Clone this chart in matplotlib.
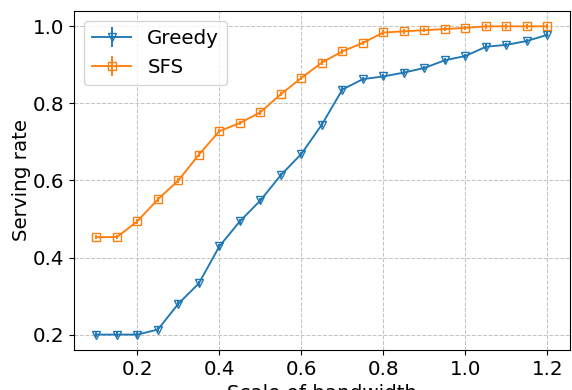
import matplotlib
matplotlib.use('Agg')
import matplotlib.pyplot as plt

# bandwidth scale from 0.1 to 1.2
scale = [0.1, 0.15, 0.2, 0.25, 0.3, 0.35, 0.4, 0.45, 0.5, 0.55, 0.6, 0.65,
         0.7, 0.75, 0.8, 0.85, 0.9, 0.95, 1.0, 1.05, 1.1, 1.15, 1.2]
greedy = [0.2, 0.2, 0.2, 0.213, 0.28, 0.333, 0.429, 0.494, 0.548, 0.614, 0.669, 0.745,
          0.836, 0.863, 0.870, 0.880, 0.892, 0.912, 0.923, 0.947, 0.952, 0.962, 0.978]
sfs = [0.453, 0.453, 0.494, 0.551, 0.600, 0.667, 0.728, 0.749, 0.777, 0.824, 0.866, 0.906,
       0.935, 0.957, 0.984, 0.987, 0.990, 0.993, 0.996, 1.0, 1.0, 1.0, 1.0]
greedy_err = [0.006] * len(scale)
sfs_err = [0.006] * len(scale)

fs = 14.3

fig = plt.figure(figsize=(5.72, 3.9), dpi=100)
ax = fig.add_axes([0.129, 0.1026, 0.8675, 0.8694])

ax.errorbar(scale, greedy, yerr=greedy_err, marker='v', fillstyle='none',
            markersize=5.4, linewidth=1.35, color='tab:blue', label='Greedy')
ax.errorbar(scale, sfs, yerr=sfs_err, marker='s', fillstyle='none',
            markersize=5.4, linewidth=1.35, color='tab:orange', label='SFS')

ax.set_xlim(0.045, 1.255)
ax.set_ylim(0.16, 1.04)
ax.set_xticks([0.2, 0.4, 0.6, 0.8, 1.0, 1.2])
ax.set_yticks([0.2, 0.4, 0.6, 0.8, 1.0])
ax.tick_params(labelsize=fs)
ax.grid(True, linestyle='--', color='#c4c4c4', linewidth=0.75)
ax.set_xlabel('Scale of bandwidth', fontsize=fs)
ax.set_ylabel('Serving rate', fontsize=fs, labelpad=1)
ax.legend(loc='upper left', fontsize=fs)

fig.savefig('out.png', dpi=100)
